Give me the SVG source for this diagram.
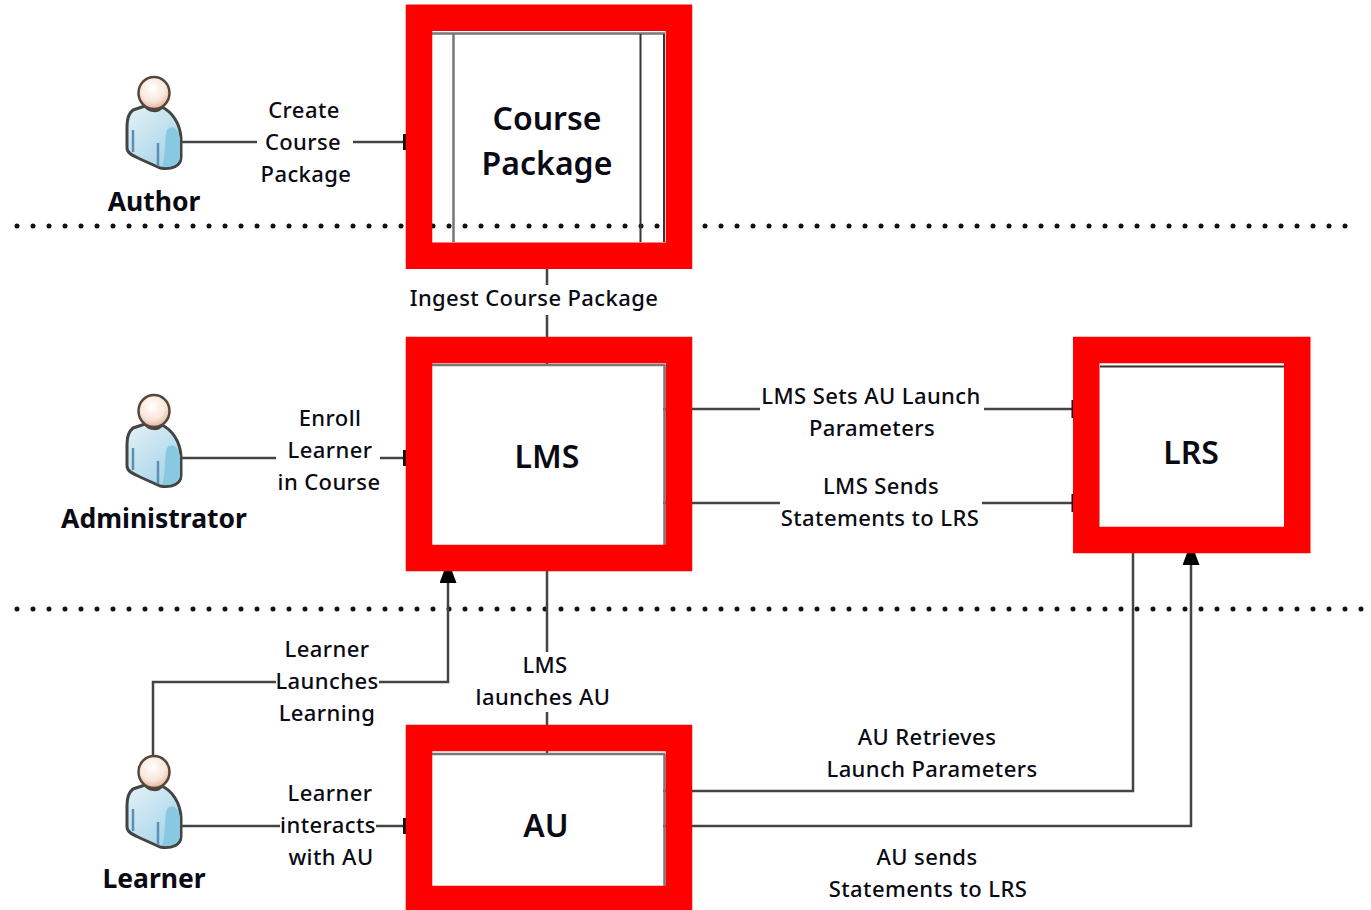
<svg xmlns="http://www.w3.org/2000/svg" width="1371" height="910" viewBox="0 0 1371 910">
<style>
text{font-family:"Noto Sans","Open Sans","Liberation Sans",sans-serif;fill:#0a0a14;text-anchor:middle}
.l{font-size:22px;font-weight:500;letter-spacing:.4px}
.r{font-size:26.500px;font-weight:700}
.n{font-size:32px;font-weight:600}
.c{fill:none;stroke:#444;stroke-width:2.500}
.d{fill:none;stroke:#111;stroke-width:5;stroke-linecap:round;stroke-dasharray:0 16}
.b{fill:none;stroke:#f00;stroke-width:26.500}
.e{stroke:#777;stroke-width:2.500;fill:none}
.k{stroke:#333;stroke-width:2;fill:none}
.t{stroke:#111;stroke-width:3;fill:none}
</style>
<defs>
<radialGradient id="h" cx="45%" cy="35%" r="70%"><stop offset="0" stop-color="#fff"/><stop offset="0.6" stop-color="#f8e6da"/><stop offset="1" stop-color="#dda888"/></radialGradient>
<linearGradient id="s" x1="0" y1="0" x2="0.800" y2="1"><stop offset="0" stop-color="#e4f2f7"/><stop offset="1" stop-color="#a4d3e8"/></linearGradient>
<marker id="a" markerWidth="12" markerHeight="17" refX="12" refY="8.500" orient="auto" markerUnits="userSpaceOnUse"><path d="M0 0L12 4.500V12.500L0 17Z" fill="#000"/></marker>
<g id="p">
<path d="M-21 34C-26 38-27 43-27 50L-27 72C-27 77-22 79-14 83L6 92C18 94 27 90 27 81L27 62C26 47 18 36 8 31C4 36-4 36-9 30Z" fill="url(#s)" stroke="#444" stroke-width="3" stroke-linejoin="round"/>
<path d="M-21 54V76M4 67V90" stroke="#5b8fb5" stroke-width="2.500" fill="none"/>
<path d="M13 54C18 48 24 52 26 62V81C26 88 18 92 8 91C12 80 10 62 13 54Z" fill="#88c8e0"/>
<ellipse cx="0" cy="17" rx="15.500" ry="16" fill="url(#h)" stroke="#55463c" stroke-width="2.500"/>
</g>
</defs>
<rect width="1371" height="910" fill="#fff"/>
<g id="separators">
<path class="d" d="M17 226H1350"/>
<path class="d" d="M17 609H1362"/>
</g>
<g id="connectors">
<path class="c" d="M178 142H257M353 142H408"/>
<path class="c" d="M547 268V285M547 315V365"/>
<path class="c" d="M178 458H276M380 458H408"/>
<path class="c" d="M663 409H760M984 409H1075"/>
<path class="c" d="M663 503H780M982 503H1075"/>
<path class="c" d="M547 570V652M547 712V754"/>
<path class="c" d="M153 756V682H276M379 682H448V571" marker-end="url(#a)"/>
<path class="c" d="M178 826H280M376 826H408"/>
<path class="c" d="M663 791H1133V552"/>
<path class="c" d="M663 826H1191V553" marker-end="url(#a)"/>
<path class="t" d="M404.500 134V150M404.500 450V466M404.500 818V834M1073 400V418M1073 494V512"/>
</g>
<g id="author"><use href="#p" x="154" y="76"/><text class="r" x="154" y="211">Author</text></g>
<g id="administrator"><use href="#p" x="154" y="394"/><text class="r" x="154" y="528">Administrator</text></g>
<g id="learner"><use href="#p" x="154" y="755"/><text class="r" x="154" y="888">Learner</text></g>
<g id="course-package">
<path class="e" d="M432 33.500H665M453.500 34V242"/>
<path class="k" d="M640.500 34V242M664 34V242"/>
<rect class="b" x="419" y="17.750" width="260" height="238"/>
<text class="n" x="547" y="130">Course</text><text class="n" x="547" y="175">Package</text>
</g>
<g id="lms">
<path class="e" d="M432 365H665M664.500 365V545"/>
<rect class="b" x="419" y="350" width="260" height="208"/>
<text class="n" x="547" y="468">LMS</text>
</g>
<g id="lrs">
<path class="k" d="M1100 366.500H1284"/>
<rect class="b" x="1086.250" y="350" width="211" height="190"/>
<text class="n" x="1191" y="464">LRS</text>
</g>
<g id="au">
<path class="e" d="M432 754H665M664.500 754V887"/>
<rect class="b" x="419" y="738" width="260" height="161"/>
<text class="n" x="546" y="837">AU</text>
</g>
<g id="labels">
<text class="l" x="304" y="118">Create</text><text class="l" x="303" y="150">Course</text><text class="l" x="306" y="182">Package</text>
<text class="l" x="534" y="306">Ingest Course Package</text>
<text class="l" x="330" y="426">Enroll</text><text class="l" x="330" y="458">Learner</text><text class="l" x="329" y="490">in Course</text>
<text class="l" x="871" y="404">LMS Sets AU Launch</text><text class="l" x="872" y="436">Parameters</text>
<text class="l" x="881" y="494">LMS Sends</text><text class="l" x="880" y="526">Statements to LRS</text>
<text class="l" x="327" y="657">Learner</text><text class="l" x="327" y="689">Launches</text><text class="l" x="327" y="721">Learning</text>
<text class="l" x="545" y="673">LMS</text><text class="l" x="543" y="705">launches AU</text>
<text class="l" x="927" y="745">AU Retrieves</text><text class="l" x="932" y="777">Launch Parameters</text>
<text class="l" x="330" y="801">Learner</text><text class="l" x="328" y="833">interacts</text><text class="l" x="331" y="865">with AU</text>
<text class="l" x="927" y="865">AU sends</text><text class="l" x="928" y="897">Statements to LRS</text>
</g>
</svg>
